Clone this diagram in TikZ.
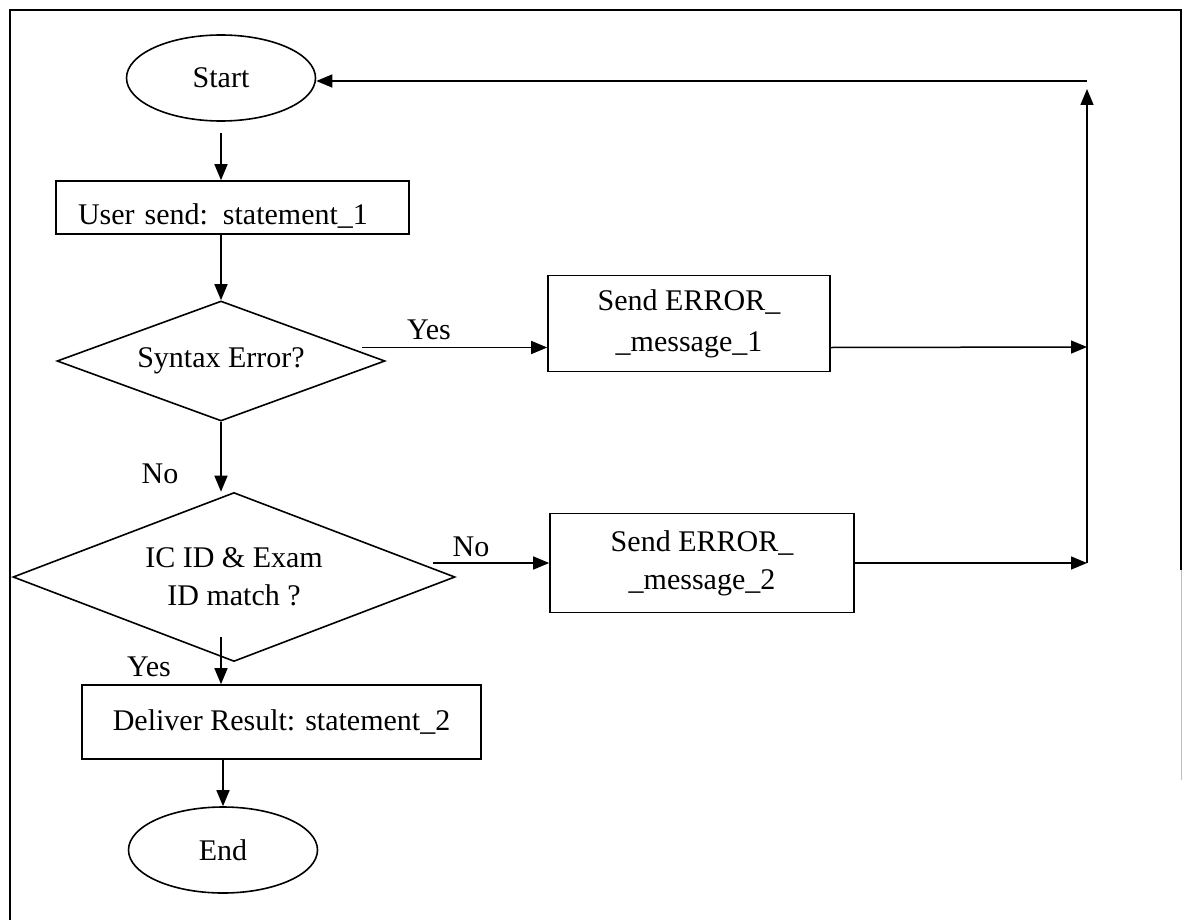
\documentclass[tikz,border=0pt]{standalone}
\usepackage{fontspec}
\setmainfont{Liberation Serif}
\usetikzlibrary{shapes.geometric,arrows.meta,calc}
\begin{document}
\begin{tikzpicture}[x=0.5pt,y=-0.5pt,
  txt/.style={font=\fontsize{15}{19}\selectfont},
  box/.style={txt,draw,line width=0.8pt,rectangle,inner sep=0pt},
  terminal/.style={txt,draw,line width=0.8pt,ellipse,inner sep=0pt},
  decision/.style={txt,draw,line width=0.8pt,diamond,inner sep=0pt,aspect=2.5},
  lbl/.style={txt,inner sep=0pt},
  arr/.style={line width=0.75pt,-{Triangle[length=8pt,width=6.5pt]}},
  frame/.style={line width=1pt}]
\useasboundingbox (0,0) rectangle (1182,920);

% outer frame
\draw[frame] (10,920) -- (10,10) -- (1181,10) -- (1181,570);
\draw[line width=0.5pt,black!25] (1181,570) -- (1181,780);

% flow nodes
\node[terminal,minimum width=94.5pt,minimum height=43pt] (start) at (221,78) {Start};
\node[box,minimum width=176.5pt,minimum height=26.5pt,text width=154.5pt,align=left,inner xsep=11pt]
  (s1) at (232.5,207.5) {\raisebox{-8.5pt}[0pt][0pt]{User send: statement\_1}};
\node[decision,minimum width=164pt,minimum height=60pt] (d1) at (221,361) {Syntax Error?};
\node[decision,minimum width=221pt,minimum height=84.5pt,align=center] (d2) at (234,577)
  {IC ID \& Exam\\ID match ?};
\node[box,minimum width=141pt,minimum height=48pt,align=center]
  (b2) at (689,323.5) {Send ERROR\_\\[1.5pt] \_message\_1};
\node[box,minimum width=152pt,minimum height=49.5pt,align=center] (b3) at (702,563)
  {Send ERROR\_\\ \_message\_2};
\node[box,minimum width=199.5pt,minimum height=37pt] (b4) at (281.5,722)
  {\raisebox{2pt}{Deliver Result: statement\_2}};
\node[terminal,minimum width=94.5pt,minimum height=43pt] (end) at (223,850) {End};

% junction points on the return path
\coordinate (yesin) at ([yshift=-12pt]b2.west);
\coordinate (j1) at (1087,347);
\coordinate (j2) at (b3.east -| j1);
\coordinate (rt) at (1087,81);

% connectors
\draw[arr] ([yshift=-5.5pt]start.south) -- (start.south |- s1.north);
\draw[arr] (s1.south -| d1.north) -- (d1.north);
\draw[arr] ([xshift=-12pt]yesin -| d1.east) -- (yesin);
\draw[arr] (yesin -| b2.east) -- (j1);
\draw[arr] (d1.south) -- (d1.south |- d2.north);
\draw[arr] ([xshift=-11.5pt]b3.west -| d2.east) -- (b3.west);
\draw[arr] (b3.east) -- (j2);
\draw[arr] (j2) -- ([yshift=-4pt]rt);
\draw[arr] (rt) -- (rt -| start.east);
\draw[arr] ([yshift=12.5pt]d2.south -| start.south) -- (start.south |- b4.north);
\draw[arr] (b4.south -| end.north) -- (end.north);

% branch labels
\node[lbl] (yes1) at (429,330) {Yes};
\node[lbl] (no1) at (160,474) {No};
\node[lbl] (no2) at (471,547) {No};
\node[lbl] (yes2) at (149,667) {Yes};
\end{tikzpicture}
\end{document}
